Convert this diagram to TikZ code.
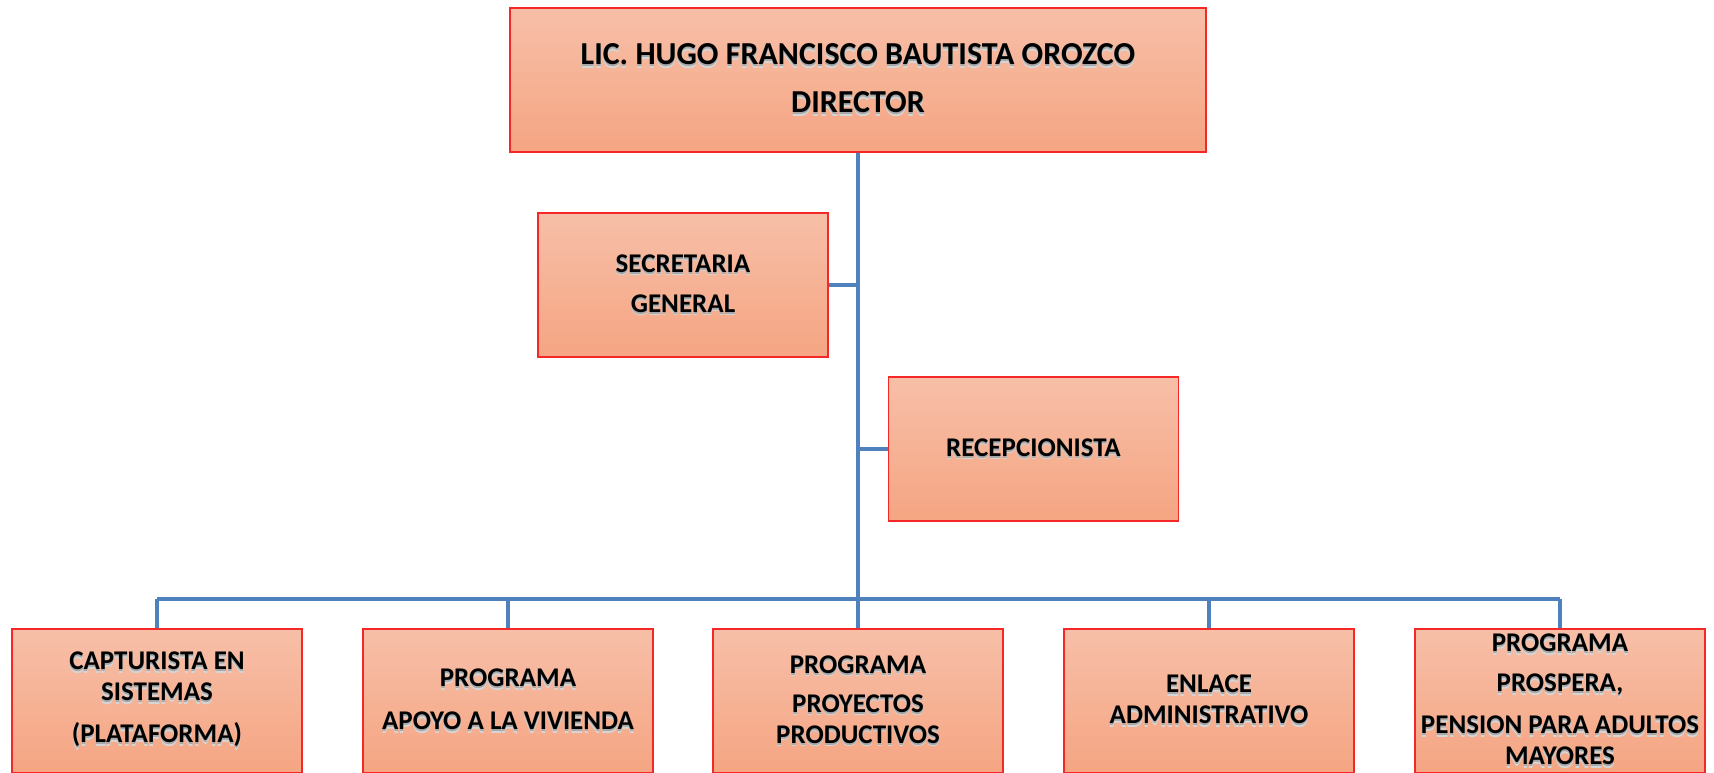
\documentclass[tikz,border=0pt]{standalone}
\usepackage{fontspec}
\setmainfont{Carlito}
\usepackage{xcolor}
\usetikzlibrary{calc}
\definecolor{rojoborde}{RGB}{245,40,40}
\definecolor{salmonalto}{RGB}{247,191,168}
\definecolor{salmonbajo}{RGB}{245,165,130}
\definecolor{azullinea}{RGB}{79,129,189}
\newcommand{\sombra}[1]{\rlap{\raisebox{-3.5pt}{\textcolor{black!16}{#1}}}\rlap{\raisebox{-2pt}{\textcolor{black!34}{#1}}}#1}
\tikzset{
  puesto/.style   = {draw=rojoborde, line width=1.4pt, top color=salmonalto, bottom color=salmonbajo,
                     minimum width=290pt, minimum height=144pt, inner sep=0pt, align=center,
                     font=\fontsize{27}{31}\selectfont\bfseries},
  jefe/.style     = {puesto, minimum width=696pt, font=\fontsize{32}{37}\selectfont\bfseries},
  conector/.style = {azullinea, line width=3.2pt}
}
\begin{document}
\begin{tikzpicture}[x=1pt, y=-1pt]
  \useasboundingbox (0,0) rectangle (1714,773);
  \clip (0,0) rectangle (1714,773);
  \fill[white] (0,0) rectangle (1714,773);
  % nodos
  \node[jefe] (dir) at (858,80) {\sombra{LIC. HUGO FRANCISCO BAUTISTA OROZCO}\\[11pt]\sombra{DIRECTOR}};
  \node[puesto] (sec) at (683,285) {\sombra{SECRETARIA}\\[9pt]\sombra{GENERAL}};
  \node[puesto] (rec) at (1033.5,449) {\sombra{RECEPCIONISTA}};
  \node[puesto] (cap) at (157,701) {\sombra{CAPTURISTA EN}\\\sombra{SISTEMAS}\\[11pt]\sombra{(PLATAFORMA)}};
  \node[puesto] (viv) at (508,701) {\sombra{PROGRAMA}\\[12pt]\sombra{APOYO A LA VIVIENDA}};
  \node[puesto] (pro) at (858,701) {\sombra{PROGRAMA}\\[8pt]\sombra{PROYECTOS}\\\sombra{PRODUCTIVOS}};
  \node[puesto] (enl) at (1209,701) {\sombra{ENLACE}\\\sombra{ADMINISTRATIVO}};
  \node[puesto] (prs) at (1560,701) {\sombra{PROGRAMA}\\[9pt]\sombra{PROSPERA,}\\[11pt]\sombra{PENSION PARA ADULTOS}\\\sombra{MAYORES}};
  \coordinate (bus) at (858,599);
  % lineas
  \draw[conector] (dir.south) -- (bus);
  \draw[conector] (sec.east) -- (sec.east -| dir.south);
  \draw[conector] (rec.west) -- (rec.west -| dir.south);
  \draw[conector] (cap.north |- bus) -- (prs.north |- bus);
  \foreach \n in {cap,viv,pro,enl,prs}{\draw[conector] (\n.north) -- (\n.north |- bus);}
\end{tikzpicture}
\end{document}
